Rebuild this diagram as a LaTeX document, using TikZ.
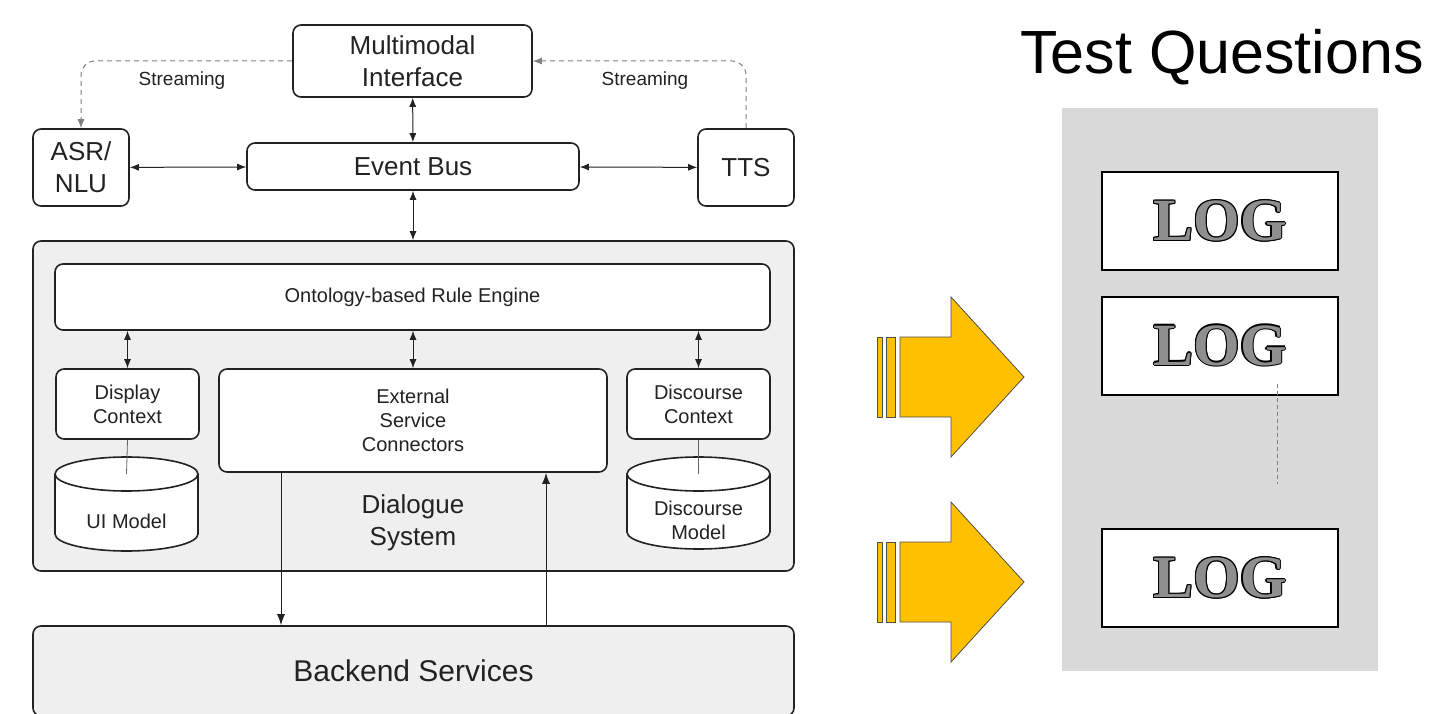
\documentclass[tikz,border=0pt]{standalone}
\usepackage{fontspec}
\setmainfont{Liberation Sans}
\newfontfamily\logfont{Liberation Serif}
\usepackage{tikz}
\usetikzlibrary{arrows.meta,positioning,calc}
\definecolor{ink}{HTML}{222222}
\definecolor{dlgfill}{HTML}{EFEFEF}
\definecolor{panelgray}{HTML}{D9D9D9}
\definecolor{amber}{HTML}{FFC000}
\definecolor{loggray}{HTML}{8F8F8F}
% outlined serif word for the log boxes
\newcommand{\logcopy}[3]{\makebox[0pt]{\raisebox{#2}{\hspace*{#1}\logfont\bfseries\color{#3}LOG\hspace*{-#1}}}}
\newcommand{\logword}{%
  \logcopy{1.3pt}{0pt}{black}\logcopy{-1.3pt}{0pt}{black}\logcopy{0pt}{1.3pt}{black}\logcopy{0pt}{-1.3pt}{black}%
  \logcopy{0.9pt}{0.9pt}{black}\logcopy{-0.9pt}{0.9pt}{black}\logcopy{0.9pt}{-0.9pt}{black}\logcopy{-0.9pt}{-0.9pt}{black}%
  \logcopy{0pt}{0pt}{loggray}}
% database cylinder: name, centre x, top ellipse y, bottom ellipse y, text
\newcommand{\dbstore}[5]{%
  \draw[cylline, fill=white] (#2,#4) ellipse (71.5 and 17);
  \fill[white] (#2-71.5,#3) rectangle (#2+71.5,#4);
  \draw[cylline] (#2-71.5,#3) -- (#2-71.5,#4) (#2+71.5,#3) -- (#2+71.5,#4);
  \draw[cylline, fill=white] (#2,#3) ellipse (71.5 and 17);
  \coordinate (#1top) at (#2,#3);
  \node[smalltext, text=ink, align=center] (#1) at (#2,{(#3+#4)/2+17}) {#5};
}

\begin{document}
\begin{tikzpicture}[x=1pt, y=-1pt,
  box/.style={draw=ink, line width=1.6pt, rounded corners=8pt, fill=white, align=center, text=ink, inner sep=0pt},
  bigtext/.style={font=\fontsize{26}{32}\selectfont},
  smalltext/.style={font=\fontsize{20}{24}\selectfont},
  cylline/.style={draw=ink, line width=1.6pt},
  biarrow/.style={{Latex[length=9pt,width=7pt]}-{Latex[length=9pt,width=7pt]}, line width=1pt, draw=ink},
  arrow/.style={-{Latex[length=11pt,width=8pt]}, line width=1pt, draw=ink},
  stream/.style={-{Latex[length=9pt,width=7pt]}, dash pattern=on 5pt off 4pt, draw=gray, line width=1pt, rounded corners=14pt},
  logbox/.style={draw=black, line width=2pt, fill=white, minimum width=236pt, minimum height=98pt, inner sep=0pt, font=\fontsize{60}{66}\selectfont},
  bigarrow/.style={fill=amber, draw=ink!80, line width=0.8pt}
]
\useasboundingbox (0,0) rectangle (1434,714);

% left: architecture
\node[box, bigtext, minimum width=239pt, minimum height=72pt] (mmi) at (412.5,61) {Multimodal\\Interface};
\node[box, bigtext, minimum width=96pt, minimum height=77pt] (asr) at (81,167.5) {ASR/\\NLU};
\node[box, bigtext, minimum width=332pt, minimum height=47pt] (bus) at (413,166.5) {Event Bus};
\node[box, bigtext, minimum width=96pt, minimum height=77pt] (tts) at (746,167.5) {TTS};

\node[font=\fontsize{19}{22}\selectfont, text=ink] (lblasr) at (182,81) {Streaming};
\node[font=\fontsize{19}{22}\selectfont, text=ink] (lbltts) at (645,81) {Streaming};
\draw[stream] (mmi.west) -| (asr.north);
\draw[stream] (tts.north) |- (mmi.east);

\node[box, fill=dlgfill, minimum width=761pt, minimum height=330pt] (dlg) at (413.5,406) {};
\node[box, smalltext, minimum width=715pt, minimum height=66pt] (rule) at (412.5,297) {Ontology-based Rule Engine};
\node[box, smalltext, minimum width=143pt, minimum height=70pt] (dctx) at (127.5,404) {Display\\Context};
\node[box, smalltext, minimum width=388pt, minimum height=103pt] (esc) at (413,420.5) {External\\Service\\Connectors};
\node[box, smalltext, minimum width=143pt, minimum height=70pt] (kctx) at (698.5,404) {Discourse\\Context};
\node[bigtext, text=ink, align=center] (dlglbl) at (413,523) {Dialogue\\System};

\dbstore{uimodel}{126.5}{474}{534}{UI Model}
\dbstore{dmodel}{698.5}{474}{532}{Discourse\\Model}
\draw[draw=ink!70, line width=0.8pt] (dctx.south) -- (uimodeltop);
\draw[draw=ink!70, line width=0.8pt] (kctx.south) -- (dmodeltop);

\node[box, fill=dlgfill, font=\fontsize{30}{36}\selectfont, minimum width=761pt, minimum height=90pt] (backend) at (413.5,671) {Backend Services};

\draw[biarrow] (asr) -- (bus);
\draw[biarrow] (bus) -- (tts);
\draw[biarrow] (mmi) -- (bus);
\draw[biarrow] (bus.south) -- (bus.south |- dlg.north);
\draw[biarrow] (dctx.north) -- (dctx.north |- rule.south);
\draw[biarrow] (esc.north) -- (esc.north |- rule.south);
\draw[biarrow] (kctx.north) -- (kctx.north |- rule.south);
\draw[arrow] ([xshift=-132pt]esc.south) -- ([xshift=-132pt]esc.south |- backend.north);
\draw[arrow] ([xshift=133pt]esc.south |- backend.north) -- ([xshift=133pt]esc.south);

% middle: yellow arrows
\foreach \yc in {377,582} {
  \filldraw[bigarrow] (900,\yc-40) -- (951,\yc-40) -- (951,\yc-80) -- (1024,\yc) -- (951,\yc+80) -- (951,\yc+40) -- (900,\yc+40) -- cycle;
  \filldraw[bigarrow] (886,\yc-40) rectangle (895,\yc+40);
  \filldraw[bigarrow] (877,\yc-40) rectangle (882,\yc+40);
}

% right: test questions
\node[font=\fontsize{61}{70}\selectfont] (title) at (1222,57) {Test Questions};
\node[fill=panelgray, minimum width=316pt, minimum height=563pt, inner sep=0pt] (panel) at (1220,389.5) {};
\foreach \n/\yc in {a/221, b/345.5, c/578}
  \node[logbox] (log\n) at (1220,\yc) {\logword};
\draw[gray, line width=1pt, dash pattern=on 4pt off 3pt] ([xshift=57pt,yshift=12pt]logb.south) -- ([xshift=57pt,yshift=44pt]logc.north);

\end{tikzpicture}
\end{document}
